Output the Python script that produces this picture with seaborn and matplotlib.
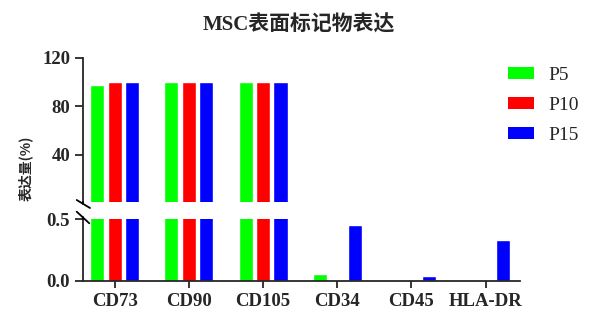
import matplotlib
matplotlib.use("Agg")
import matplotlib.pyplot as plt
from matplotlib.lines import Line2D
from matplotlib.patches import Patch
import seaborn as sns
import pandas as pd

categories = ['CD73', 'CD90', 'CD105', 'CD34', 'CD45', 'HLA-DR']
series_names = ['P5', 'P10', 'P15']
p5 = [98.0, 99.9, 99.9, 0.053, 0.0, 0.0]
p10 = [99.9, 99.9, 99.9, 0.0, 0.0, 0.0]
p15 = [99.9, 99.9, 99.9, 0.45, 0.036, 0.33]
colors = ['#00FF00', '#FF0000', '#0000FF']
top_ticks = [40, 80, 120]
bottom_ticks = [0.0, 0.5]

rows = []
for name, vals in zip(series_names, [p5, p10, p15]):
    for c, v in zip(categories, vals):
        rows.append({'marker': c, 'passage': name, 'value': v})
df = pd.DataFrame(rows)

sns.set_style('ticks')
plt.rcParams['font.family'] = ['Liberation Serif', 'Noto Sans CJK SC', 'DejaVu Sans']

W, H = 600, 332
fig = plt.figure(figsize=(6, 3.32), dpi=100)

def fx(px):
    return px / W

def fy(py):
    return 1 - py / H

TICK_FS = 13.5
left, right = 82.7, 520
ax_top = fig.add_axes([fx(left), fy(201.7), fx(right - left), fy(58) - fy(201.7)])
ax_bot = fig.add_axes([fx(left), fy(280.7), fx(right - left), fy(219.3) - fy(280.7)])

for ax in (ax_top, ax_bot):
    sns.barplot(data=df, x='marker', y='value', hue='passage', order=categories,
                hue_order=series_names, palette=colors, width=0.705, gap=0.19,
                saturation=1, legend=False, ax=ax, err_kws={'linewidth': 0})
    ax.set_xlim(-0.431, 5.463)
    ax.set_xlabel('')
    ax.set_ylabel('')
    for s in ['top', 'right']:
        ax.spines[s].set_visible(False)
    ax.spines['left'].set_linewidth(1.3)
    ax.spines['bottom'].set_linewidth(1.3)
    ax.tick_params(axis='y', length=6, width=1.3, pad=3, labelsize=TICK_FS)

ax_top.set_ylim(1, 120)
ax_top.set_yticks(top_ticks)
ax_top.set_yticklabels([str(t) for t in top_ticks], fontweight='bold', fontsize=TICK_FS)
ax_top.spines['bottom'].set_visible(False)
ax_top.tick_params(axis='x', bottom=False, labelbottom=False)

ax_bot.set_ylim(0, 0.5)
ax_bot.set_yticks(bottom_ticks)
ax_bot.set_yticklabels([f'{t:.1f}' for t in bottom_ticks], fontweight='bold', fontsize=TICK_FS)
ax_bot.tick_params(axis='x', length=5, width=1.3, pad=3.5, labelsize=TICK_FS)
for lab in ax_bot.get_xticklabels():
    lab.set_fontweight('bold')

# break marks
lw = 1.3
fig.add_artist(Line2D([fx(left), fx(left)], [fy(201.7), fy(203.6)], color='black', lw=lw))
fig.add_artist(Line2D([fx(76.7), fx(90)], [fy(200), fy(208)], color='black', lw=lw))
fig.add_artist(Line2D([fx(left), fx(left)], [fy(217.2), fy(219.3)], color='black', lw=lw))
fig.add_artist(Line2D([fx(76.7), fx(89.3)], [fy(211.7), fy(223.3)], color='black', lw=lw))

fig.text(fx(298.7), fy(25.5), 'MSC表面标记物表达', ha='center', va='center',
         fontsize=15, fontweight='bold',
         family=['Liberation Serif', 'Noto Sans CJK SC'])
fig.text(fx(26), fy(168), '表达量(%)', ha='center', va='center', rotation=90,
         fontsize=10, fontweight='bold',
         family=['Noto Sans CJK SC', 'Liberation Serif'])

handles = [Patch(facecolor=c, edgecolor='none') for c in colors]
fig.legend(handles, series_names, loc='upper left',
           bbox_to_anchor=(fx(508), fy(66.5)), frameon=False,
           fontsize=14, handlelength=1.34, handleheight=0.57,
           handletextpad=0.72, labelspacing=0.67, borderpad=0, borderaxespad=0)

fig.savefig('out.png', dpi=100)
